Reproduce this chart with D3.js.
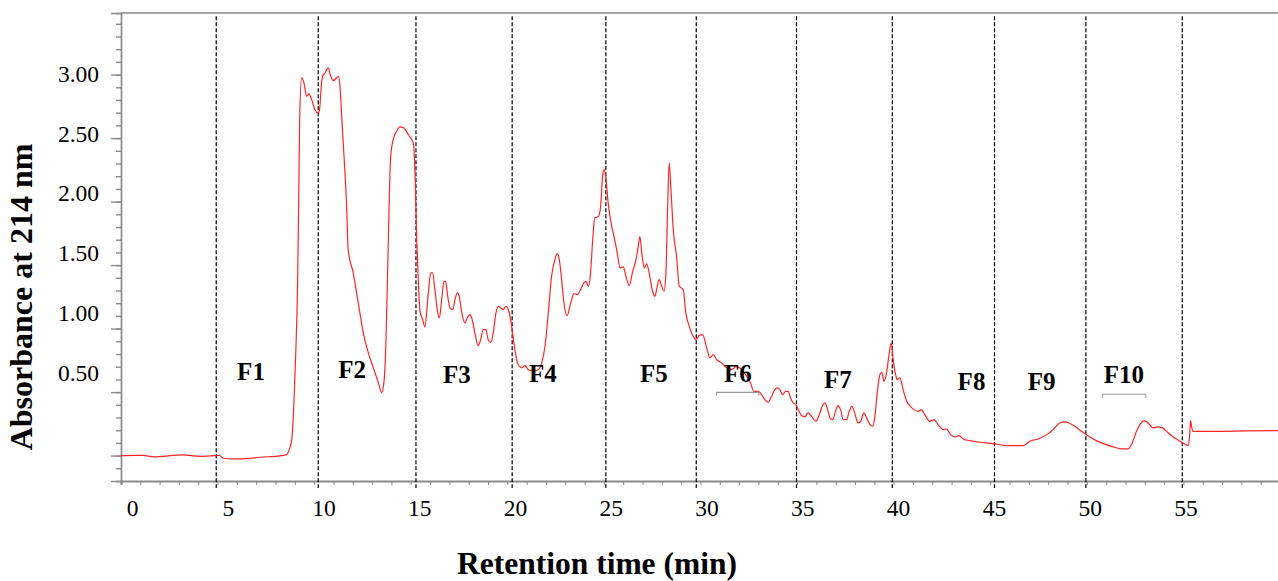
<!DOCTYPE html>
<html>
<head>
<meta charset="utf-8">
<script src="https://cdn.jsdelivr.net/npm/d3@7/dist/d3.min.js"></script>
<style>
  body { margin: 0; background: #fff; }
  svg text { font-family: "Liberation Serif", "Times New Roman", serif; fill: #000; }
</style>
</head>
<body>
<svg id="canvas" width="1278" height="581"></svg>
<script>
// retention time (min) and absorbance
const timeMin = [
  0.00,0.21,1.15,1.67,3.22,4.09,4.92,5.09,5.30,5.81,
  6.51,7.19,8.23,8.58,8.71,8.84,9.01,9.15,9.20,9.25,
  9.35,9.47,9.61,9.73,9.87,10.04,10.16,10.26,10.39,10.44,
  10.56,10.65,10.73,10.82,10.99,11.13,11.25,11.34,11.42,11.51,
  11.68,11.76,12.02,12.28,12.54,12.80,13.06,13.32,13.49,13.61,
  13.72,13.84,13.96,14.09,14.27,14.44,14.65,14.87,15.13,15.22,
  15.31,15.39,15.48,15.62,15.73,15.91,16.03,16.13,16.25,16.37,
  16.48,16.60,16.72,16.81,16.89,17.03,17.17,17.29,17.41,17.51,
  17.63,17.81,17.92,18.06,18.18,18.32,18.49,18.62,18.75,18.89,
  19.01,19.14,19.27,19.41,19.53,19.65,19.79,19.93,20.05,20.17,
  20.27,20.39,20.56,20.74,20.91,21.08,21.34,21.60,21.78,21.95,
  22.12,22.29,22.46,22.58,22.69,22.81,22.93,23.10,23.28,23.45,
  23.62,23.79,23.96,24.07,24.19,24.31,24.42,24.53,24.71,24.83,
  24.93,25.00,25.09,25.22,25.40,25.52,25.69,25.83,26.00,26.14,
  26.31,26.49,26.66,26.78,26.86,26.98,27.09,27.21,27.34,27.52,
  27.64,27.76,27.86,27.99,28.11,28.21,28.30,28.38,28.47,28.59,
  28.76,28.90,29.10,29.24,29.42,29.62,29.76,29.93,30.11,30.32,
  30.49,30.66,30.83,31.09,31.35,31.61,31.87,32.13,32.39,32.59,
  32.76,32.99,33.16,33.33,33.50,33.68,33.85,33.97,34.11,34.25,
  34.42,34.54,34.66,34.80,34.94,35.06,35.23,35.40,35.57,35.75,
  35.97,36.18,36.32,36.44,36.56,36.70,36.84,36.99,37.11,37.25,
  37.39,37.56,37.70,37.84,37.98,38.16,38.29,38.46,38.60,38.77,
  38.91,39.03,39.15,39.29,39.39,39.49,39.63,39.75,39.88,39.97,
  40.10,40.18,40.32,40.49,40.67,40.87,41.05,41.27,41.44,41.61,
  41.87,42.08,42.30,42.56,42.74,42.94,43.17,43.39,43.60,43.94,
  44.46,45.15,45.84,46.70,47.05,47.48,48.00,48.34,48.60,48.86,
  49.08,49.38,49.72,49.98,50.33,50.76,51.36,51.80,52.14,52.31,
  52.57,52.78,52.96,53.17,53.43,53.69,53.92,54.13,54.39,54.68,
  54.90,55.12,55.26,55.33,55.37,55.42,55.51,55.85,56.54,58.27,
  59.89
];
const absorbance = [
  0.000,0.000,0.002,-0.010,0.006,-0.006,0.000,0.002,-0.021,-0.026,
  -0.024,-0.013,-0.002,0.008,0.047,0.126,0.654,1.441,2.016,2.646,
  2.974,2.935,2.829,2.848,2.803,2.724,2.698,2.706,2.947,2.987,
  3.013,3.039,3.053,3.006,2.953,2.969,2.987,2.898,2.685,2.449,
  1.963,1.622,1.441,1.205,0.969,0.811,0.693,0.575,0.496,0.575,
  0.913,1.701,2.357,2.488,2.554,2.588,2.580,2.528,2.462,2.228,
  1.701,1.386,1.136,1.071,1.013,1.281,1.439,1.439,1.307,1.150,
  1.084,1.228,1.372,1.372,1.281,1.163,1.150,1.228,1.281,1.254,
  1.136,1.045,1.084,1.110,1.071,0.966,0.866,0.913,0.992,0.992,
  0.913,0.892,0.966,1.124,1.176,1.163,1.150,1.176,1.150,1.071,
  0.966,0.835,0.717,0.691,0.709,0.677,0.664,0.677,0.730,0.861,
  1.124,1.412,1.543,1.591,1.543,1.386,1.202,1.102,1.202,1.276,
  1.268,1.307,1.360,1.372,1.333,1.439,1.701,1.872,1.880,1.963,
  2.199,2.252,2.199,1.990,1.806,1.727,1.596,1.478,1.486,1.412,
  1.339,1.451,1.543,1.648,1.727,1.569,1.478,1.512,1.439,1.294,
  1.254,1.333,1.386,1.333,1.294,1.439,1.963,2.305,2.094,1.780,
  1.569,1.333,1.307,1.124,1.018,0.939,0.913,0.945,0.953,0.848,
  0.769,0.795,0.756,0.730,0.691,0.677,0.703,0.677,0.624,0.572,
  0.506,0.506,0.480,0.441,0.420,0.467,0.520,0.533,0.520,0.480,
  0.506,0.506,0.454,0.415,0.402,0.362,0.315,0.305,0.336,0.309,
  0.270,0.336,0.394,0.415,0.376,0.297,0.283,0.349,0.394,0.362,
  0.283,0.283,0.349,0.388,0.336,0.257,0.270,0.336,0.297,0.244,
  0.232,0.309,0.494,0.638,0.656,0.585,0.651,0.782,0.887,0.764,
  0.638,0.598,0.612,0.520,0.428,0.388,0.362,0.349,0.362,0.323,
  0.270,0.283,0.244,0.205,0.210,0.165,0.147,0.157,0.131,0.118,
  0.105,0.094,0.079,0.079,0.113,0.131,0.173,0.218,0.257,0.265,
  0.257,0.231,0.191,0.165,0.131,0.100,0.069,0.053,0.053,0.087,
  0.191,0.252,0.276,0.257,0.218,0.226,0.218,0.191,0.157,0.126,
  0.105,0.087,0.079,0.179,0.276,0.231,0.191,0.191,0.191,0.194,
  0.197
];

// fraction cut points (min) and fraction names
const fractionEdges = [4.93, 10.21, 15.27, 20.25, 25.10, 29.78, 34.97, 39.93, 45.22, 49.95, 54.94];
const fractionNames = ["F1","F2","F3","F4","F5","F6","F7","F8","F9","F10"];
const fractionLabelTime = [6.73, 11.96, 17.39, 21.84, 27.59, 31.94, 37.11, 44.03, 47.66, 51.92];
const fractionLabelAbs  = [0.66, 0.68, 0.64, 0.65, 0.65, 0.65, 0.60, 0.58, 0.585, 0.638];

// small brackets under F6 and F10
const bracketStart = [30.83, 50.81];
const bracketEnd   = [33.02, 53.05];
const bracketAbs   = [0.498, 0.483];

// tick labels
const xTickLabels = [0, 5, 10, 15, 20, 25, 30, 35, 40, 45, 50, 55];
const yTickLabels = [0.5, 1.0, 1.5, 2.0, 2.5, 3.0];

let canvas = d3.select("#canvas");

let xScale = d3.scaleLinear().domain([0, 60]).range([121, 1280]);
let yScale = d3.scaleLinear().domain([-0.2, 3.485]).range([481, 13]);
// printed labels don't sit exactly on their ticks in the original figure
let yLabelScale = d3.scaleLinear().domain([0.5, 3.0]).range([yScale(0.5) - 19, yScale(3.0) - 1]);
let xLabelScale = d3.scaleLinear().domain([0, 55]).range([xScale(0) + 11, xScale(55) + 2]);

let axisGrey = "#8a8a8a";

// top frame line
canvas.append("line")
      .attr("x1", xScale(0)).attr("x2", 1278)
      .attr("y1", yScale(3.485)).attr("y2", yScale(3.485))
      .attr("stroke", axisGrey).attr("stroke-width", 1.6);

// left axis: minor + major ticks, no labels
let minorY = d3.range(-1, 35).map(d => d / 10);
let majorY = d3.range(0, 7).map(d => d / 2);

let yMinor = canvas.append("g")
      .attr("transform", "translate(" + xScale(0) + ",0)")
      .call(d3.axisLeft(yScale).tickValues(minorY).tickSize(5).tickFormat(""));
let yMajor = canvas.append("g")
      .attr("transform", "translate(" + xScale(0) + ",0)")
      .call(d3.axisLeft(yScale).tickValues(majorY).tickSize(10).tickFormat(""));
[yMinor, yMajor].forEach(g => {
    g.selectAll("path, line").attr("stroke", axisGrey).attr("stroke-width", 1.4);
});

// y tick labels
let yLabels = canvas.append("g")
      .attr("transform", "translate(" + xScale(0) + ",0)")
      .call(d3.axisLeft(yLabelScale).tickValues(yTickLabels).tickSize(0).tickPadding(22)
            .tickFormat(d3.format(".2f")));
yLabels.select(".domain").remove();
yLabels.selectAll("text").attr("font-size", "23.5px").attr("font-family", "Liberation Serif, serif");

// bottom axis: one tick per minute
let xAxisG = canvas.append("g")
      .attr("transform", "translate(0," + yScale(-0.2) + ")")
      .call(d3.axisBottom(xScale).ticks(60).tickSize(4).tickFormat(""));
xAxisG.select(".domain").attr("stroke", axisGrey).attr("stroke-width", 2.2);
xAxisG.selectAll("line").attr("stroke", axisGrey).attr("stroke-width", 1);

let xLabels = canvas.append("g")
      .attr("transform", "translate(0," + yScale(-0.2) + ")")
      .call(d3.axisBottom(xLabelScale).tickValues(xTickLabels).tickSize(0).tickPadding(18));
xLabels.select(".domain").remove();
xLabels.selectAll("text").attr("font-size", "23.5px").attr("font-family", "Liberation Serif, serif");

// fraction boundaries
canvas.selectAll("line.cut")
      .data(fractionEdges)
      .enter()
      .append("line")
      .attr("class", "cut")
      .attr("x1", d => xScale(d)).attr("x2", d => xScale(d))
      .attr("y1", yScale(3.46)).attr("y2", yScale(-0.255))
      .attr("stroke", "#000")
      .attr("stroke-width", 1.2)
      .attr("stroke-dasharray", "4,2");

// chromatogram trace
let trace = d3.zip(timeMin, absorbance);
canvas.append("path")
      .datum(trace)
      .attr("fill", "none")
      .attr("stroke", "#ff2424")
      .attr("stroke-width", 1.2)
      .attr("d", d3.line()
            .x(d => xScale(d[0]))
            .y(d => yScale(d[1]))
            .curve(d3.curveMonotoneX));

// brackets
bracketStart.forEach((s, i) => {
    let yb = yScale(bracketAbs[i]);
    canvas.append("path")
          .attr("fill", "none")
          .attr("stroke", "#999")
          .attr("stroke-width", 1.1)
          .attr("d", "M" + xScale(s) + "," + (yb + 3.5) + "V" + yb + "H" + xScale(bracketEnd[i]) + "V" + (yb + 3.5));
});

// fraction labels
canvas.selectAll("text.frac")
      .data(fractionNames)
      .enter()
      .append("text")
      .attr("class", "frac")
      .attr("x", (d, i) => xScale(fractionLabelTime[i]))
      .attr("y", (d, i) => yScale(fractionLabelAbs[i]))
      .attr("text-anchor", "middle")
      .attr("dominant-baseline", "central")
      .attr("font-size", "25px")
      .attr("font-weight", "bold")
      .text(d => d);

// axis titles
canvas.append("text")
      .attr("transform", "translate(32,297) rotate(-90)")
      .attr("text-anchor", "middle")
      .attr("font-size", "32px")
      .attr("font-weight", "bold")
      .text("Absorbance at 214 nm");

canvas.append("text")
      .attr("x", 597)
      .attr("y", 574)
      .attr("text-anchor", "middle")
      .attr("font-size", "31.5px")
      .attr("font-weight", "bold")
      .text("Retention time (min)");
</script>
</body>
</html>
